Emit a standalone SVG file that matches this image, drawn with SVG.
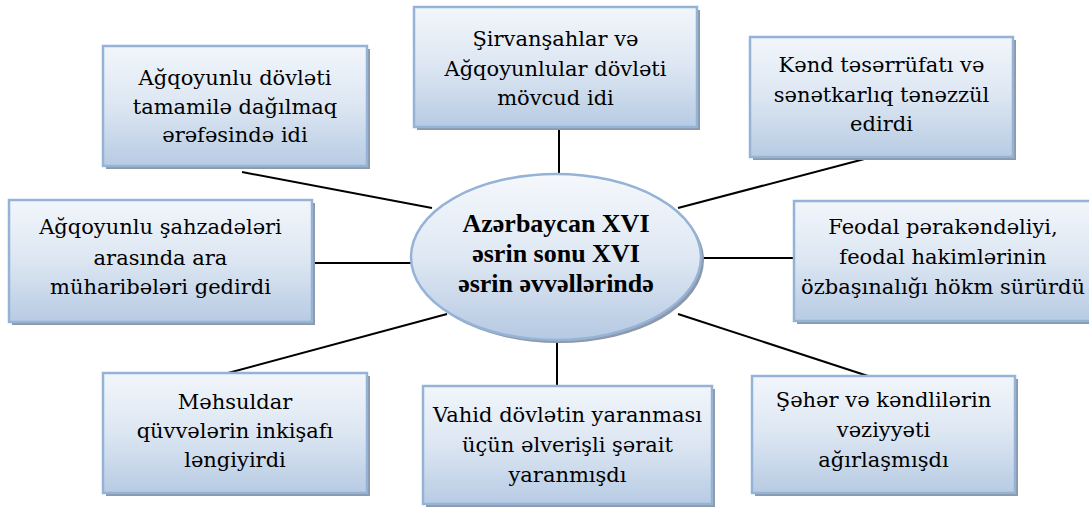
<svg xmlns="http://www.w3.org/2000/svg" width="1089" height="509" viewBox="0 0 1089 509">
<defs>
<linearGradient id="g" x1="0" y1="0" x2="0" y2="1">
<stop offset="0" stop-color="#f2f6fb"/>
<stop offset="0.5" stop-color="#dce6f2"/>
<stop offset="1" stop-color="#b7cbe3"/>
</linearGradient>
<linearGradient id="ge" x1="0" y1="0" x2="0" y2="1">
<stop offset="0" stop-color="#f5f8fc"/>
<stop offset="0.5" stop-color="#dfe8f3"/>
<stop offset="1" stop-color="#b5c9e2"/>
</linearGradient>
</defs>
<rect width="1089" height="509" fill="#fff"/>
<g id="connectors" stroke="#000" stroke-width="2" fill="none">
<line x1="242" y1="172" x2="432" y2="208"/>
<line x1="559" y1="127" x2="559" y2="174"/>
<line x1="872" y1="157" x2="678" y2="208"/>
<line x1="312" y1="263" x2="411" y2="263"/>
<line x1="701" y1="258" x2="794" y2="258"/>
<line x1="228" y1="373" x2="447" y2="314"/>
<line x1="557" y1="342" x2="557" y2="386"/>
<line x1="868" y1="376" x2="678" y2="314"/>
</g>
<g id="center" font-size="26">
<ellipse fill="#8d98a8" cx="559" cy="260" rx="145" ry="83"/>
<ellipse cx="556" cy="257" rx="145" ry="83" fill="url(#ge)" stroke="#95b3d7" stroke-width="2.5"/>
<text font-family="Liberation Serif, DejaVu Serif, serif" font-weight="700" text-anchor="middle" x="556" y="232">Azərbaycan XVI</text>
<text font-family="Liberation Serif, DejaVu Serif, serif" font-weight="700" text-anchor="middle" x="556" y="262">əsrin sonu XVI</text>
<text font-family="Liberation Serif, DejaVu Serif, serif" font-weight="700" text-anchor="middle" x="556" y="292">əsrin əvvəllərində</text>
</g>
<g id="n1" font-size="21">
<rect fill="#8d98a8" x="106" y="49" width="264" height="120"/>
<rect fill="url(#g)" stroke="#95b3d7" stroke-width="2.5" x="103" y="46" width="264" height="120"/>
<text font-family="DejaVu Serif, Liberation Serif, serif" text-anchor="middle" x="235" y="85">Ağqoyunlu dövləti</text>
<text font-family="DejaVu Serif, Liberation Serif, serif" text-anchor="middle" x="235" y="114">tamamilə dağılmaq</text>
<text font-family="DejaVu Serif, Liberation Serif, serif" text-anchor="middle" x="235" y="142">ərəfəsində idi</text>
</g>
<g id="n2" font-size="21">
<rect fill="#8d98a8" x="417" y="10" width="283" height="120"/>
<rect fill="url(#g)" stroke="#95b3d7" stroke-width="2.5" x="414" y="7" width="283" height="120"/>
<text font-family="DejaVu Serif, Liberation Serif, serif" text-anchor="middle" x="555.5" y="46">Şirvanşahlar və</text>
<text font-family="DejaVu Serif, Liberation Serif, serif" text-anchor="middle" x="555.5" y="76">Ağqoyunlular dövləti</text>
<text font-family="DejaVu Serif, Liberation Serif, serif" text-anchor="middle" x="555.5" y="105">mövcud idi</text>
</g>
<g id="n3" font-size="21">
<rect fill="#8d98a8" x="753" y="40" width="263" height="120"/>
<rect fill="url(#g)" stroke="#95b3d7" stroke-width="2.5" x="750" y="37" width="263" height="120"/>
<text font-family="DejaVu Serif, Liberation Serif, serif" text-anchor="middle" x="881.5" y="72">Kənd təsərrüfatı və</text>
<text font-family="DejaVu Serif, Liberation Serif, serif" text-anchor="middle" x="881.5" y="102">sənətkarlıq tənəzzül</text>
<text font-family="DejaVu Serif, Liberation Serif, serif" text-anchor="middle" x="881.5" y="131">edirdi</text>
</g>
<g id="n4" font-size="21">
<rect fill="#8d98a8" x="12" y="203" width="303" height="122"/>
<rect fill="url(#g)" stroke="#95b3d7" stroke-width="2.5" x="9" y="200" width="303" height="122"/>
<text font-family="DejaVu Serif, Liberation Serif, serif" text-anchor="middle" x="160.5" y="234">Ağqoyunlu şahzadələri</text>
<text font-family="DejaVu Serif, Liberation Serif, serif" text-anchor="middle" x="160.5" y="265">arasında ara</text>
<text font-family="DejaVu Serif, Liberation Serif, serif" text-anchor="middle" x="160.5" y="294">müharibələri gedirdi</text>
</g>
<g id="n5" font-size="21">
<rect fill="#8d98a8" x="797" y="204" width="298" height="120"/>
<rect fill="url(#g)" stroke="#95b3d7" stroke-width="2.5" x="794" y="201" width="298" height="120"/>
<text font-family="DejaVu Serif, Liberation Serif, serif" text-anchor="middle" x="943" y="234">Feodal pərakəndəliyi,</text>
<text font-family="DejaVu Serif, Liberation Serif, serif" text-anchor="middle" x="943" y="264">feodal hakimlərinin</text>
<text font-family="DejaVu Serif, Liberation Serif, serif" text-anchor="middle" x="943" y="294">özbaşınalığı hökm sürürdü</text>
</g>
<g id="n6" font-size="21">
<rect fill="#8d98a8" x="106" y="376" width="264" height="120"/>
<rect fill="url(#g)" stroke="#95b3d7" stroke-width="2.5" x="103" y="373" width="264" height="120"/>
<text font-family="DejaVu Serif, Liberation Serif, serif" text-anchor="middle" x="235" y="409">Məhsuldar</text>
<text font-family="DejaVu Serif, Liberation Serif, serif" text-anchor="middle" x="235" y="438">qüvvələrin inkişafı</text>
<text font-family="DejaVu Serif, Liberation Serif, serif" text-anchor="middle" x="235" y="467">ləngiyirdi</text>
</g>
<g id="n7" font-size="21">
<rect fill="#8d98a8" x="426" y="389" width="289" height="118"/>
<rect fill="url(#g)" stroke="#95b3d7" stroke-width="2.5" x="423" y="386" width="289" height="118"/>
<text font-family="DejaVu Serif, Liberation Serif, serif" text-anchor="middle" x="567.5" y="422">Vahid dövlətin yaranması</text>
<text font-family="DejaVu Serif, Liberation Serif, serif" text-anchor="middle" x="567.5" y="452">üçün əlverişli şərait</text>
<text font-family="DejaVu Serif, Liberation Serif, serif" text-anchor="middle" x="567.5" y="482">yaranmışdı</text>
</g>
<g id="n8" font-size="21">
<rect fill="#8d98a8" x="755" y="379" width="263" height="117"/>
<rect fill="url(#g)" stroke="#95b3d7" stroke-width="2.5" x="752" y="376" width="263" height="117"/>
<text font-family="DejaVu Serif, Liberation Serif, serif" text-anchor="middle" x="883.5" y="407">Şəhər və kəndlilərin</text>
<text font-family="DejaVu Serif, Liberation Serif, serif" text-anchor="middle" x="883.5" y="437">vəziyyəti</text>
<text font-family="DejaVu Serif, Liberation Serif, serif" text-anchor="middle" x="883.5" y="467">ağırlaşmışdı</text>
</g>
</svg>
